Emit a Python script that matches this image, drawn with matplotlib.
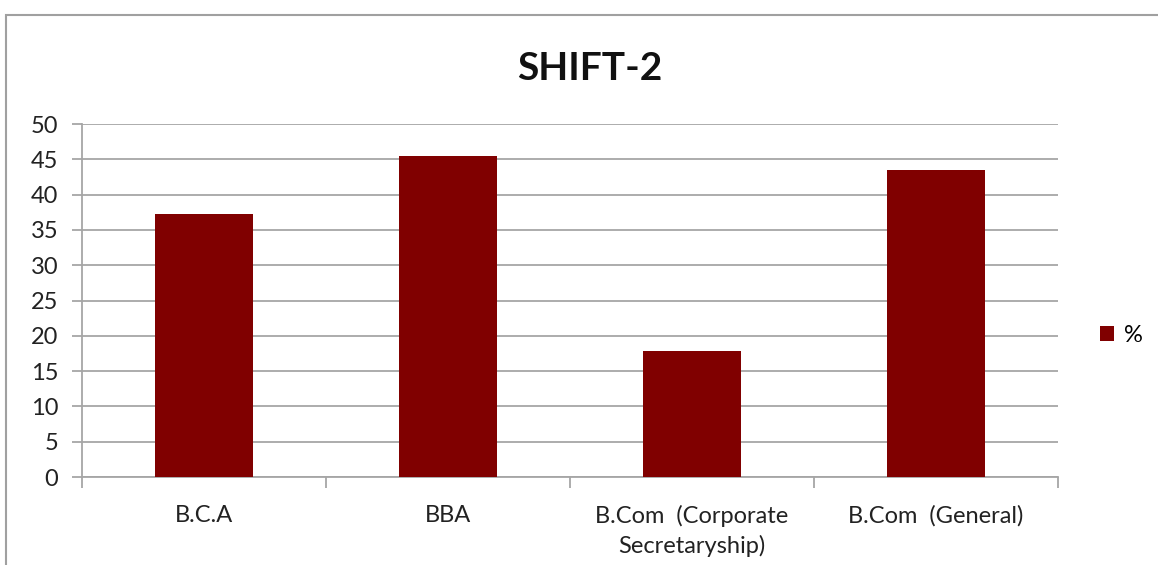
import matplotlib
matplotlib.use("Agg")
import matplotlib.pyplot as plt
from matplotlib.patches import Rectangle

categories = ["B.C.A", "BBA", "B.Com  (Corporate\nSecretaryship)", "B.Com  (General)"]
values = [37.2, 45.4, 17.9, 43.5]
yticks = [0, 5, 10, 15, 20, 25, 30, 35, 40, 45, 50]
title = "SHIFT-2"
series_name = "%"

plt.rcParams['font.family'] = ['Lato', 'DejaVu Sans']

fig = plt.figure(figsize=(11.58, 5.65), dpi=100)
# chart-area border
fig.patches.append(Rectangle((6/1158, -0.05), 1.2, 1 - 15/565 + 0.05, transform=fig.transFigure,
                             fill=False, edgecolor='#a0a0a0', linewidth=1.5))
ax = fig.add_axes([82/1158, 1 - 477/565, 976/1158, 353/565])

x = list(range(len(categories)))
bars = ax.bar(x, values, width=0.4, color='#800000', label=series_name, zorder=3)

ax.set_xlim(-0.5, len(categories) - 0.5)
ax.set_ylim(0, 50)
ax.set_yticks(yticks)
ax.set_yticklabels([str(t) for t in yticks], fontsize=17, color='#222222')
ax.yaxis.grid(True, color='#a6a6a6', linewidth=1.3, zorder=0)
ax.set_axisbelow(True)

ax.set_xticks(x)
ax.set_xticklabels(categories, fontsize=17, color='#222222', linespacing=1.45)
ax.tick_params(axis='x', length=0, pad=20)
ax.set_xticks([i - 0.5 for i in range(len(categories) + 1)], minor=True)
ax.tick_params(axis='x', which='minor', length=8, color='#a6a6a6', width=1.3)
ax.tick_params(axis='y', length=7, color='#a6a6a6', width=1.3, pad=10)

for s in ['top', 'right']:
    ax.spines[s].set_visible(False)
for s in ['left', 'bottom']:
    ax.spines[s].set_color('#a6a6a6')
    ax.spines[s].set_linewidth(1.3)

fig.text(590/1158, 1 - 68/565, title, fontsize=28, fontweight='bold', ha='center', va='center', color='#111111')

leg = fig.legend(handles=[bars], labels=[series_name], loc='center left',
                 bbox_to_anchor=(1079/1158, 1 - 335/565), frameon=False, fontsize=17,
                 handlelength=0.6, handleheight=0.6, handletextpad=0.4)

fig.savefig("out.png", dpi=100, facecolor='white')
